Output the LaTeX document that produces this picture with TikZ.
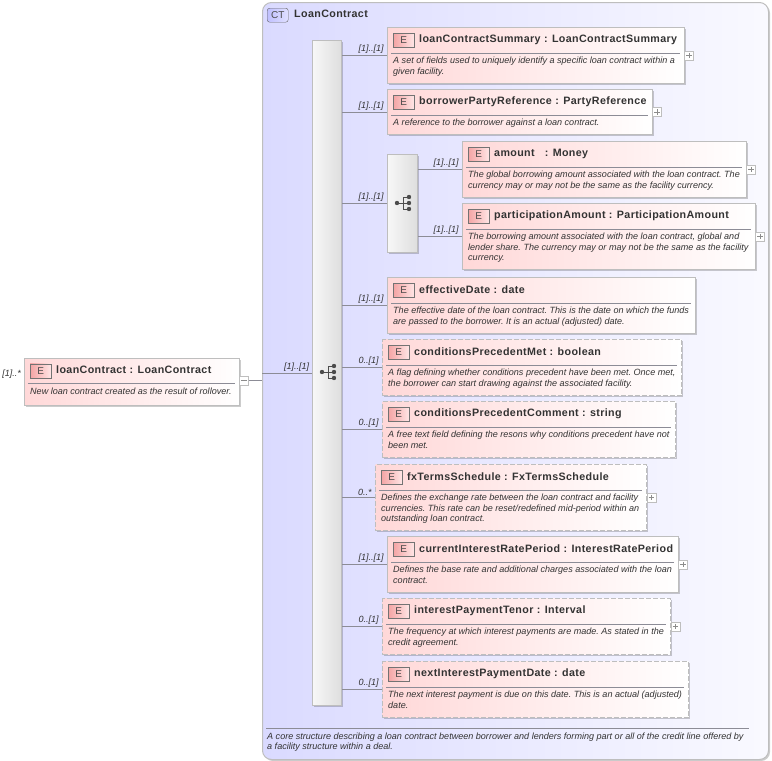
\documentclass[tikz,border=0pt]{standalone}
\usepackage{fontspec}
\usepackage{xcolor}
\setmainfont{Liberation Sans}
\newfontfamily\titlefont[LetterSpace=3.5]{Liberation Sans}
\usetikzlibrary{calc, positioning, shadows}

\definecolor{edgegray}{HTML}{BEBEBE}
\definecolor{linegray}{HTML}{8C8C96}
\definecolor{inkgray}{HTML}{333333}
\definecolor{elempink}{HTML}{FFD8D8}
\definecolor{ctblue}{HTML}{DADAFF}
\definecolor{ctbadge}{HTML}{C0C0FF}
\definecolor{badgered}{HTML}{F4A4A4}

\tikzset{
    softshadow/.style={drop shadow={shadow xshift=1.5pt, shadow yshift=-1.5pt, fill=black, opacity=0.2}},
    elemsolid/.style={draw=edgegray, line width=1pt, left color=elempink, right color=white, softshadow, anchor=north west, inner sep=0pt},
    elemdashed/.style={elemsolid, dash pattern=on 5pt off 2pt, line width=1.4pt},
    badge/.style={draw=black!55, left color=badgered, right color=red!10, minimum width=21pt, minimum height=14pt, inner sep=0pt, anchor=north west, text=black!70, font=\fontsize{10}{10}\selectfont},
    titletext/.style={anchor=west, inner sep=0pt, text=inkgray, font=\titlefont\bfseries\fontsize{10.7}{12}\selectfont},
    desctext/.style={anchor=north west, inner sep=0pt, align=left, text=inkgray, font=\frenchspacing\itshape\fontsize{9.05}{10.5}\selectfont},
    multlabel/.style={inner sep=0pt, text=inkgray, font=\itshape\fontsize{9}{10}\selectfont},
    conn/.style={draw=linegray, line width=0.7pt},
    compositor/.style={draw=edgegray, line width=1pt, left color=black!3, right color=black!13, softshadow, anchor=north west, inner sep=0pt},
    togglebox/.style={draw=edgegray, fill=white, minimum size=9pt, inner sep=0pt},
    plusbox/.style={togglebox, path picture={\draw[black!45, line width=0.6pt] ($(path picture bounding box.center)+(-2.7,0)$) -- ($(path picture bounding box.center)+(2.7,0)$) ($(path picture bounding box.center)+(0,-2.7)$) -- ($(path picture bounding box.center)+(0,2.7)$);}},
    minusbox/.style={togglebox, path picture={\draw[black!45, line width=0.6pt] ($(path picture bounding box.center)+(-2.7,0)$) -- ($(path picture bounding box.center)+(2.7,0)$);}},
    icondot/.style={circle, fill=black!70, minimum size=4.4pt, inner sep=0pt},
}

% name, look, x, y, width, height, title, description
\newcommand{\elembox}[8]{
    \node[#2, minimum width=#5pt, minimum height=#6pt] (#1) at (#3, #4) {};
    \node[badge] (#1badge) at (#3+6, #4+6) {E};
    \node[titletext] (#1title) at (#3+32, #4+12.6) {#7};
    \coordinate (#1rulea) at (#3+4, #4+26);
    \coordinate (#1ruleb) at (#3+#5-4, #4+26);
    \draw[linegray, line width=0.7pt] (#1rulea) -- (#1ruleb);
    \node[desctext] (#1desc) at (#3+6, #4+30) {#8};
}

% name, x, y of the sequence symbol
\newcommand{\seqicon}[3]{
    \node[icondot] (#1in) at (#2-6, #3) {};
    \node[icondot] (#1top) at (#2+6, #3-6) {};
    \node[icondot] (#1mid) at (#2+6, #3) {};
    \node[icondot] (#1bot) at (#2+6, #3+6) {};
    \draw[black!70, line width=0.9pt] (#1in) -- (#1mid) (#1top) -| (#2, #3+6) -- (#1bot);
}

\begin{document}
\begin{tikzpicture}[x=1pt, y=-1pt]
    \useasboundingbox (0, 0) rectangle (772, 761);

    % complex type
    \node[draw=edgegray, line width=1pt, rounded corners=9pt, left color=ctblue, right color=ctblue!15, softshadow, anchor=north west, minimum width=506pt, minimum height=757pt, inner sep=0pt] (ctbox) at (262, 2) {};
    \node[draw=black!60, rounded corners=2.5pt, left color=ctbadge, right color=ctbadge!50, minimum width=21pt, minimum height=14pt, inner sep=0pt, anchor=north west, text=black!70, font=\fontsize{10}{10}\selectfont] (ctbadge) at (267, 8) {CT};
    \node[titletext] (cttitle) at (294, 14) {LoanContract};
    \coordinate (ctrulea) at (266, 728);
    \coordinate (ctruleb) at (749, 728);
    \draw[linegray, line width=0.7pt] (ctrulea) -- (ctruleb);
    \node[desctext] (ctdesc) at (267, 732.5) {A core structure describing a loan contract between borrower and lenders forming part or all of the credit line offered by\\a facility structure within a deal.};

    % compositors
    \node[compositor, minimum width=29pt, minimum height=665pt] (mainseq) at (312, 40) {};
    \node[compositor, minimum width=30pt, minimum height=98pt] (amountseq) at (387, 154) {};
    \seqicon{mainicon}{328}{372}
    \seqicon{amounticon}{403}{203}

    % elements
    \elembox{root}{elemsolid}{24}{357.5}{215}{47}{loanContract\ : LoanContract}{New loan contract created as the result of rollover.}
    \elembox{summary}{elemsolid}{387}{27}{297}{56}{loanContractSummary\ : LoanContractSummary}{A set of fields used to uniquely identify a specific loan contract within a\\given facility.}
    \elembox{borrower}{elemsolid}{387}{89}{265}{45}{borrowerPartyReference\ : PartyReference}{A reference to the borrower against a loan contract.}
    \elembox{amount}{elemsolid}{462}{141}{284}{56}{amount\ \ \ : Money}{The global borrowing amount associated with the loan contract. The\\currency may or may not be the same as the facility currency.}
    \elembox{partamount}{elemsolid}{462}{203}{293}{66}{participationAmount\ : ParticipationAmount}{The borrowing amount associated with the loan contract, global and\\lender share. The currency may or may not be the same as the facility\\currency.}
    \elembox{effective}{elemsolid}{387}{277}{308}{56}{effectiveDate\ : date}{The effective date of the loan contract. This is the date on which the funds\\are passed to the borrower. It is an actual (adjusted) date.}
    \elembox{condmet}{elemdashed}{382}{339}{299}{56}{conditionsPrecedentMet\ : boolean}{A flag defining whether conditions precedent have been met. Once met,\\the borrower can start drawing against the associated facility.}
    \elembox{condcomment}{elemdashed}{382}{401}{293}{56}{conditionsPrecedentComment\ : string}{A free text field defining the resons why conditions precedent have not\\been met.}
    \elembox{fxterms}{elemdashed}{375}{464}{271}{66}{fxTermsSchedule\ : FxTermsSchedule}{Defines the exchange rate between the loan contract and facility\\currencies. This rate can be reset/redefined mid-period within an\\outstanding loan contract.}
    \elembox{currentrate}{elemsolid}{387}{536}{291}{56}{currentInterestRatePeriod\ : InterestRatePeriod}{Defines the base rate and additional charges associated with the loan\\contract.}
    \elembox{paytenor}{elemdashed}{382}{598}{288}{56}{interestPaymentTenor\ : Interval}{The frequency at which interest payments are made. As stated in the\\credit agreement.}
    \elembox{nextdate}{elemdashed}{382}{661}{306}{56}{nextInterestPaymentDate\ : date}{The next interest payment is due on this date. This is an actual (adjusted)\\date.}

    % expand and collapse boxes
    \node[minusbox, right=-0.8pt of root, yshift=1pt] (rootminus) {};
    \node[plusbox, right=-0.8pt of summary] (summaryplus) {};
    \node[plusbox, right=-0.8pt of borrower] (borrowerplus) {};
    \node[plusbox, right=-0.8pt of amount] (amountplus) {};
    \node[plusbox, right=-0.8pt of partamount] (partamountplus) {};
    \node[plusbox, right=-0.8pt of fxterms] (fxtermsplus) {};
    \node[plusbox, right=-0.8pt of currentrate] (currentrateplus) {};
    \node[plusbox, right=-0.8pt of paytenor] (paytenorplus) {};

    \node[multlabel, left=3pt of root, yshift=7pt] (rootmult) {[1]..*};

    \draw[conn]
    (rootminus) -- (ctbox.west |- rootminus)
    (ctbox.west |- mainseq) -- (mainseq.west)
    node[multlabel, pos=0.95, above left=1.5pt and 0pt] (mainmult) {[1]..[1]}

    (mainseq.east |- summary.west) -- (summary.west)
    node[multlabel, above left=1.5pt and 3pt] (summarymult) {[1]..[1]}
    (mainseq.east |- borrower.west) -- (borrower.west)
    node[multlabel, above left=1.5pt and 3pt] (borrowermult) {[1]..[1]}
    (mainseq.east |- amountseq.west) -- (amountseq.west)
    node[multlabel, above left=1.5pt and 3pt] (amountseqmult) {[1]..[1]}
    (amountseq.east |- amount.west) -- (amount.west)
    node[multlabel, above left=1.5pt and 3pt] (amountmult) {[1]..[1]}
    (amountseq.east |- partamount.west) -- (partamount.west)
    node[multlabel, above left=1.5pt and 3pt] (partamountmult) {[1]..[1]}
    (mainseq.east |- effective.west) -- (effective.west)
    node[multlabel, above left=1.5pt and 3pt] (effectivemult) {[1]..[1]}
    (mainseq.east |- condmet.west) -- (condmet.west)
    node[multlabel, above left=1.5pt and 3pt] (condmetmult) {0..[1]}
    (mainseq.east |- condcomment.west) -- (condcomment.west)
    node[multlabel, above left=1.5pt and 3pt] (condcommentmult) {0..[1]}
    (mainseq.east |- fxterms.west) -- (fxterms.west)
    node[multlabel, above left=1.5pt and 3pt] (fxtermsmult) {0..*}
    (mainseq.east |- currentrate.west) -- (currentrate.west)
    node[multlabel, above left=1.5pt and 3pt] (currentratemult) {[1]..[1]}
    (mainseq.east |- paytenor.west) -- (paytenor.west)
    node[multlabel, above left=1.5pt and 3pt] (paytenormult) {0..[1]}
    (mainseq.east |- nextdate.west) -- (nextdate.west)
    node[multlabel, above left=1.5pt and 3pt] (nextdatemult) {0..[1]};
\end{tikzpicture}
\end{document}
